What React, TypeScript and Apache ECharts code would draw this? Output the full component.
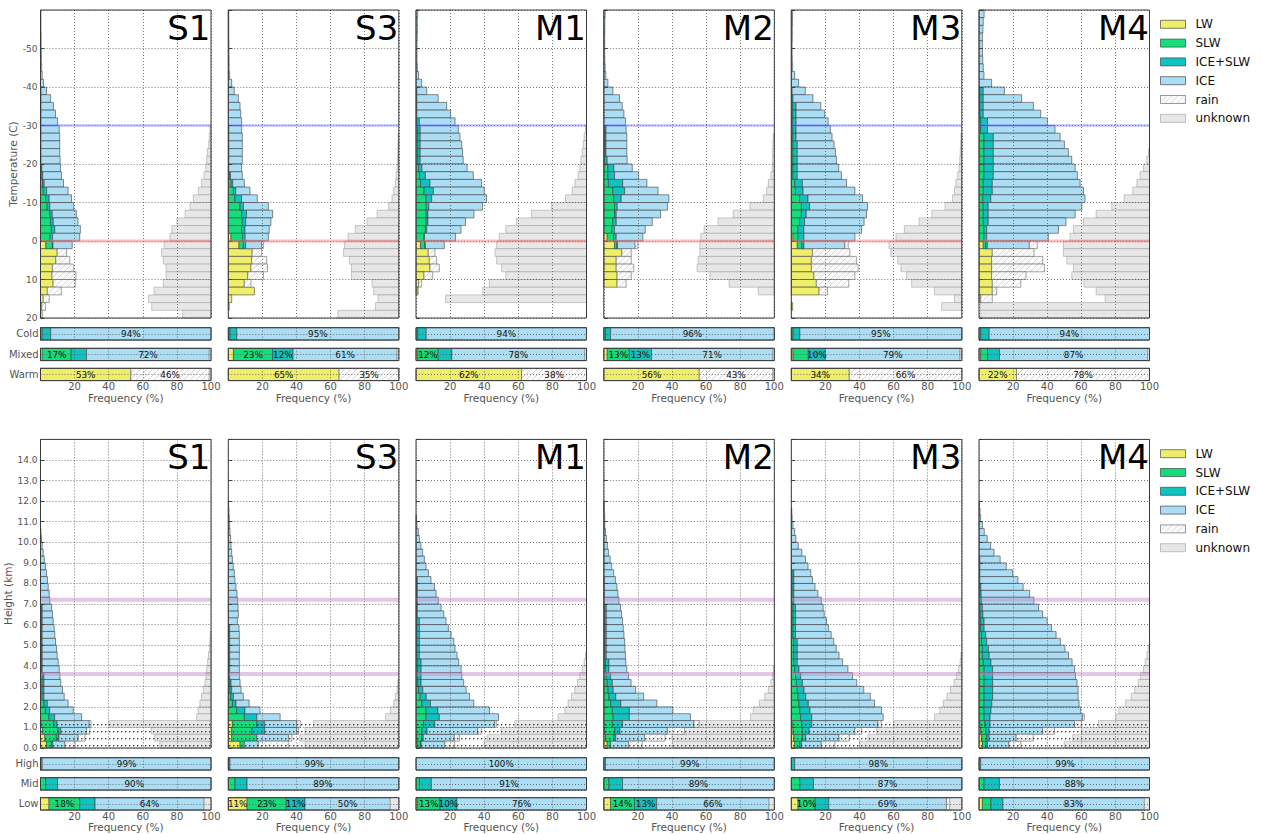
import React, { useEffect, useRef } from "react";
import * as echarts from "echarts";

// ---------- data ----------
const NT = 40; // 2 °C bins from -60 to 20 °C (index 0 = -60..-58)
const NH = 45; // 1/3 km bins from 0 to 15 km (index 0 = 0..0.33 km)
const at = (n: number, start: number, vals: number[]) => {
  const a = new Array(n).fill(0);
  vals.forEach((v, k) => { a[start + k] = v; });
  return a;
};

const PANELS = ["S1", "S3", "M1", "M2", "M3", "M4"];
const CATEGORIES = ["LW", "SLW", "ICE+SLW", "ICE", "rain", "unknown"];
const TOP_ROWS = ["Cold", "Mixed", "Warm"];
const BOTTOM_ROWS = ["High", "Mid", "Low"];
const T_REF_LINES = [-30, 0];
const H_REF_LINES = [7.2, 3.6];
const H_DOTTED_TOP = 1.4;

// Temperature histograms (% per bin)
const T_S1_LW = at(NT, 30, [3.1, 9.8, 9, 7, 6.8, 7.4, 4, 1.6, 0.8, 0.3]);
const T_S1_SLW = at(NT, 20, [0.3, 0.5, 1.2, 1.6, 3.1, 3.9, 5.5, 5.9, 6.4, 5.5, 3.9]);
const T_S1_MIX = at(NT, 10, [0.3, 0.3, 0.3, 0.3, 0.3, 0.3, 0.3, 0.3, 0.3, 0.3, 0.5, 0.8, 1.0, 2.0, 2.0, 1.6, 1.4, 1.6, 2.0, 1.6, 0.3]);
const T_S1_ICE = at(NT, 0, [0.3, 0.3, 0.3, 0.4, 0.4, 0.5, 0.5, 0.7, 1.0, 1.8, 3.2, 5.6, 7.3, 8.5, 9.7, 10.7, 11.0, 11.0, 11.0, 11.2, 10.9, 11.0, 11.3, 12.6, 13.1, 14.0, 14.1, 14.5, 15.0, 15.9, 11.3]);
const T_S1_RAIN = at(NT, 31, [5.5, 8.2, 12.5, 14, 13, 8.2, 3.5, 2.1, 0.8]);
const T_S1_UNK = at(NT, 15, [0.6, 1, 1.4, 2.2, 2.6, 3, 4.1, 5.5, 7.4, 10.4, 12.3, 15.2, 20, 23, 24, 27.5, 29, 28, 26.4, 26.4, 28, 33.4, 36.7, 34.8, 16.6]);

const T_S3_LW = at(NT, 29, [1.6, 6.3, 14, 13.7, 13.3, 11.4, 9.4, 15.3, 2, 0.5]);
const T_S3_SLW = at(NT, 21, [0.8, 1.6, 3, 3.9, 6.9, 7.8, 8.2, 7.8, 6.7, 2.5]);
const T_S3_MIX = at(NT, 15, [0.3, 0.3, 0.3, 0.3, 0.3, 0.3, 0.5, 1, 1.4, 3.9, 2, 2.9, 2, 2, 1.6, 1.4]);
const T_S3_ICE = at(NT, 0, [0.3, 0.3, 0.3, 0.3, 0.4, 0.4, 0.5, 0.5, 0.8, 2, 3.5, 5.9, 6.9, 7.3, 7.8, 7.5, 7.9, 7.9, 7.9, 7.9, 7.5, 6.9, 6.8, 8.3, 9.2, 14.6, 15.3, 14.8, 14.2, 13.6, 9.4]);
const T_S3_RAIN = at(NT, 30, [1, 5.6, 8.8, 9.7, 9.2, 3.9]);
const T_S3_UNK = at(NT, 16, [0.4, 0.5, 0.6, 0.8, 1, 1.6, 2, 3, 4, 5.9, 12.7, 18.6, 25.5, 29.8, 31.8, 32.4, 29, 27.8, 27.8, 15.7, 14.7, 12.2, 13.7, 35.7]);

const T_M1_LW = at(NT, 30, [2.7, 7.2, 7.8, 8.2, 4.7, 1.6, 0.8]);
const T_M1_SLW = at(NT, 14, [0.5, 1, 1, 1, 1, 1, 1.5, 2, 2.7, 4.7, 5.9, 6, 6, 6, 5.5, 4.5, 2.5]);
const T_M1_MIX = at(NT, 10, [0.5, 0.5, 0.5, 0.5, 1.5, 1.5, 1.5, 1.5, 1.5, 1.5, 2, 3.5, 5.5, 5.5, 3.3, 1.5, 1, 1, 0.8, 0.5, 0.3]);
const T_M1_ICE = at(NT, 0, [1.0, 0.8, 0.8, 0.7, 0.6, 0.6, 0.6, 0.8, 1.5, 3.3, 5.8, 12.5, 17.5, 19.8, 20.9, 22.3, 23.3, 24.3, 24.8, 25.2, 26.5, 28.1, 30.3, 29.8, 32.2, 31.5, 27, 22, 20.1, 18.2, 11.1]);
const T_M1_RAIN = at(NT, 31, [3.9, 4.3, 5.5, 5.1, 1.7, 0.5]);
const T_M1_UNK = at(NT, 15, [0.6, 1.4, 2, 2.5, 3.3, 3.9, 4.9, 6.8, 8.4, 12.3, 20.5, 32.2, 41, 47.3, 51.2, 52.7, 53.7, 52.7, 49.8, 47.3, 57, 60.9, 82.6]);

const T_M2_LW = at(NT, 29, [2, 6.3, 10.6, 7.3, 7.3, 7.8, 7.8]);
const T_M2_SLW = at(NT, 15, [0.5, 0.5, 0.5, 0.5, 0.5, 2.4, 2.4, 2.7, 5.3, 5.9, 6.3, 6.3, 5.3, 4.7, 3.9, 1.4]);
const T_M2_MIX = at(NT, 15, [0.8, 0.8, 0.8, 0.8, 1.5, 3.5, 3.9, 8.4, 6.9, 4.3, 1.6, 1, 2, 1.6, 1.4, 0.3]);
const T_M2_ICE = at(NT, 0, [0.8, 0.6, 0.6, 0.5, 0.5, 0.5, 0.6, 0.8, 1.2, 2.4, 5.3, 9.2, 10.8, 11.8, 12.7, 11.8, 12.2, 12.2, 12.2, 11.7, 10.8, 14.1, 14.2, 19.6, 28, 29.4, 26, 21.1, 18, 15.6, 10.4]);
const T_M2_RAIN = at(NT, 30, [1.6, 5.5, 8.8, 10.3, 8.3, 5.3]);
const T_M2_UNK = at(NT, 16, [0.6, 0.8, 1, 1, 1.2, 2, 3.5, 4.5, 6.5, 14.3, 24.1, 33, 41.2, 43.1, 43.7, 43.7, 44.7, 45.3, 37.8, 26.5, 9.4]);

const T_M3_LW = at(NT, 29, [1, 3.5, 12.4, 11.8, 11.8, 13.3, 14.7, 16.3, 0, 0.8]);
const T_M3_SLW = at(NT, 12, [0.8, 0.8, 0.8, 0.8, 0.8, 1, 1, 1, 1, 1, 2, 2.4, 4.9, 5.9, 5.9, 4.9, 3.9, 2.9, 2.7]);
const T_M3_MIX = at(NT, 10, [0.5, 1, 2, 2, 2, 2, 2, 2.5, 2.5, 2.5, 2.5, 2.5, 4.5, 4.5, 4.9, 4.9, 2.9, 2.9, 3.5, 3.5, 1.2]);
const T_M3_ICE = at(NT, 0, [0.8, 0.7, 0.6, 0.6, 0.5, 0.5, 0.6, 0.8, 2, 4.3, 7.7, 11.7, 14.5, 16.8, 18.8, 20.1, 21.1, 21.6, 22.4, 23, 24.3, 25.9, 25.9, 30.4, 32, 33.9, 35.3, 34.9, 33.8, 29.9, 24]);
const T_M3_RAIN = at(NT, 30, [2, 21.9, 26.4, 27.4, 24, 19, 4.9]);
const T_M3_UNK = at(NT, 16, [0.5, 0.7, 0.9, 1.2, 1.6, 2.4, 3.5, 4.3, 5.5, 9.8, 17.6, 25.1, 33.7, 38.6, 42.7, 41.6, 37.6, 35.7, 32.4, 29.4, 16.1, 4.3, 11.8]);

const T_M4_LW = at(NT, 30, [2.5, 7.8, 7.4, 7.4, 7.4, 7.8, 7.8, 1]);
const T_M4_SLW = at(NT, 10, [0.5, 0.5, 0.5, 0.5, 1, 1, 2.9, 2.9, 2.9, 2.9, 2.9, 2.9, 2.5, 2.5, 2.2, 2.5, 2.5, 2.5, 2.9, 2.9, 1.4]);
const T_M4_MIX = at(NT, 10, [2, 2, 2, 2, 4, 4, 5.5, 5.5, 5.5, 5.5, 5.5, 5.5, 5.3, 5.3, 4.7, 2.9, 2.9, 2.9, 1.6, 1.6, 1]);
const T_M4_ICE = at(NT, 0, [3, 2.5, 2.3, 2, 2, 2, 2.2, 2.5, 2.9, 7.4, 12.4, 22.5, 29.4, 33.7, 35.1, 39.6, 39.2, 41.7, 44, 46, 48, 49.3, 51.5, 53.5, 55.3, 54.9, 51, 45.6, 42.1, 36.2, 24.6]);
const T_M4_RAIN = at(NT, 30, [4.7, 24.5, 30, 31, 20.2, 16.7, 2.6, 6.8]);
const T_M4_UNK = at(NT, 18, [0.6, 1.6, 3.5, 5.5, 7.4, 9.8, 14.9, 22.1, 31.3, 38.7, 44.6, 46.6, 50.5, 50.5, 48.5, 44.6, 45.6, 38.4, 31.3, 26, 99, 99]);

// Height histograms (% per bin)
const H_S1_LW = at(NH, 0, [3.5, 2.5, 1.2, 0.3]);
const H_S1_SLW = at(NH, 0, [2.9, 6.8, 9.2, 7.4, 5, 2.9, 2, 1, 1, 1, 1, 0.5, 0.5, 0.5, 0.5, 0.5, 0.5, 0.5, 0.5, 0.5, 0.5]);
const H_S1_MIX = at(NH, 0, [0.8, 1.5, 1.5, 2, 3.3, 2.5, 2, 1, 1, 1, 1, 0.5, 0.5, 0.5, 0.5, 0.5, 0.5, 0.5, 0.5, 0.5, 0.5]);
const H_S1_ICE = at(NH, 0, [7.1, 11.3, 15.1, 18.9, 15.8, 13.8, 12.2, 11.9, 10.9, 9.9, 9.4, 10, 9.4, 8.8, 8.4, 7.8, 7.4, 7, 6.4, 6, 5.5, 5.5, 5.1, 4.5, 4.1, 3.5, 2.9, 2.2, 1.6, 1, 0.6, 0.3]);
const H_S1_RAIN = at(NH, 0, [6, 4, 2, 1]);
const H_S1_UNK = at(NH, 0, [30, 33, 35, 60, 8.4, 7.5, 6.5, 5.5, 4.5, 3.5, 3, 2.5, 2, 1.5, 1, 0.6, 0.4]);

const H_S3_LW = at(NH, 0, [6.9, 2, 2, 2.4]);
const H_S3_SLW = at(NH, 0, [2.5, 14.7, 11.8, 14.3, 9.4, 4.9, 2.5, 1.5, 1, 0.8, 0.3, 0.3, 0.3, 0.3, 0.3, 0.3, 0.3, 0.3]);
const H_S3_MIX = at(NH, 0, [0, 0, 7.5, 4.5, 7.3, 4.9, 2, 1.5, 1, 0.8, 0.5, 0.5, 0.5, 0.5, 0.5, 0.5, 0.5, 0.5]);
const H_S3_ICE = at(NH, 0, [8.2, 18.6, 18.9, 19, 13.7, 8.8, 7.7, 5.8, 5.5, 5.3, 5.7, 5.7, 5.7, 5.7, 5.7, 5.7, 5.7, 5.5, 5.3, 5.9, 5.7, 5.5, 5.1, 4.5, 3.9, 3.5, 2.9, 2.4, 2, 1.6, 1.4, 1, 0.8, 0.6, 0.4, 0.2]);
const H_S3_RAIN = at(NH, 0, [17.6, 2, 1, 2]);
const H_S3_UNK = at(NH, 0, [55, 58, 55, 50, 7.8, 4.9, 2.9, 2, 1, 0.6]);

const H_M1_LW = at(NH, 0, [0.6, 0.3]);
const H_M1_SLW = at(NH, 0, [2, 3, 3.5, 4.5, 5.9, 5.9, 3.5, 2.5, 1.5, 1, 1, 1, 1, 0.5, 0.5, 0.5, 0.5, 0.5, 0.5, 0.3, 0.3, 0.3, 0.3, 0.3, 0.3]);
const H_M1_MIX = at(NH, 0, [0.5, 1, 3, 6.5, 7.8, 7, 5, 3.5, 2.5, 2, 2, 2, 2, 1.5, 1.5, 1.5, 1.5, 1.5, 1.5, 0.5, 0.5, 0.5, 0.5, 0.5, 0.5]);
const H_M1_ICE = at(NH, 0, [13.6, 18.2, 29.8, 35.1, 34.7, 30.2, 25.4, 25.4, 25.4, 25, 23.9, 23.5, 22.1, 22.1, 20.9, 20.2, 18.6, 17, 15.6, 15.5, 13.9, 12.3, 11, 10, 8, 7.3, 5.9, 4.9, 3.9, 2.9, 2, 1.4, 0.6, 0.3]);
const H_M1_RAIN = at(NH, 0, [6, 3, 2, 1]);
const H_M1_UNK = at(NH, 0, [60, 58, 50, 42, 16.7, 12.7, 10.8, 8.8, 6.9, 5.3, 3.9, 2.5, 1.4, 0.6]);

const H_M2_LW = at(NH, 0, [2, 1, 0.5]);
const H_M2_SLW = at(NH, 0, [2, 5, 6, 5, 5.5, 5, 4, 3, 2.5, 2, 1.5, 1, 1, 0.5, 0.5, 0.5, 0.5, 0.5, 0.5, 0.5, 0.5]);
const H_M2_MIX = at(NH, 0, [0, 1, 3, 6, 9.5, 10, 6, 4, 3, 3, 2.5, 2, 2, 1, 1, 1, 1, 1, 1, 1, 1, 0.3, 0.3, 0.3, 0.3]);
const H_M2_ICE = at(NH, 0, [10.5, 16.9, 27.8, 41.9, 35.8, 25.5, 21.1, 16.4, 13.2, 11, 10.5, 10.5, 9.9, 11.2, 10.9, 10.7, 10.3, 9.9, 9.5, 8.9, 8.3, 8.6, 8, 7.4, 6.5, 5.8, 4.6, 3.7, 2.7, 2.1, 1.5, 1, 0.6, 0.5, 0.3, 0.2]);
const H_M2_RAIN = at(NH, 0, [8, 12, 10, 3]);
const H_M2_UNK = at(NH, 0, [60, 60, 55, 45, 14, 12.4, 8.7, 5.6, 3.5, 2, 1, 0.5]);

const H_M3_LW = at(NH, 0, [2, 1.5, 1, 0.5]);
const H_M3_SLW = at(NH, 0, [3, 5, 5.5, 5.5, 5.5, 5, 4.5, 4, 3.5, 3, 2.5, 2, 1.5, 1.5, 1.5, 1.5, 1, 1, 1, 1, 1, 0.5, 0.5, 0.5, 0.5, 0.5]);
const H_M3_MIX = at(NH, 0, [1, 2, 4, 6, 6.5, 6, 5.5, 4.5, 4, 3.5, 3, 2.5, 2, 2, 2, 2, 1.5, 1.5, 1.5, 1.5, 1.5, 1, 1, 1, 1, 1]);
const H_M3_ICE = at(NH, 0, [11.6, 19.5, 26.8, 38.8, 41.9, 41.9, 38.8, 37.8, 35, 31.9, 30.4, 28.7, 26.6, 24.5, 22.8, 21.4, 20.9, 19.3, 18.2, 16.8, 16.2, 16.1, 14.1, 12.4, 10.9, 9.9, 9.8, 8.3, 6.2, 4.1, 2.7, 2, 1, 0.5, 0.3]);
const H_M3_RAIN = at(NH, 0, [8, 6, 4, 2]);
const H_M3_UNK = at(NH, 0, [60, 55, 50, 40, 16, 12.9, 10.8, 8.7, 6.6, 4.6, 3.1, 1.9, 1, 0.5]);

const H_M4_LW = at(NH, 0, [2, 1.5, 1, 0.5]);
const H_M4_SLW = at(NH, 0, [2, 3, 3, 3, 3, 3, 3, 3, 3, 3, 3, 3, 2.5, 2, 2, 1.5, 1.5, 1, 1, 0.8, 0.5, 0.5, 0.3, 0.3]);
const H_M4_MIX = at(NH, 0, [1, 1.5, 2, 3, 3.5, 4, 4.5, 5, 5, 5, 5, 5, 4.5, 4, 3.5, 3, 2.5, 2, 2, 1.5, 1.5, 1, 1, 0.8, 0.5, 0.5, 0.5, 0.5]);
const H_M4_ICE = at(NH, 0, [12.6, 15.8, 31.3, 49.5, 54.3, 52.5, 51.2, 50.1, 50.1, 49.5, 48.6, 48, 47.6, 46.5, 44.9, 43.2, 41.2, 39.5, 37, 35, 32.9, 30.7, 28.4, 24.8, 22.3, 19.2, 15.5, 11.9, 8.8, 6.8, 4.8, 3.1, 2, 1, 0.6, 0.3]);
const H_M4_RAIN = at(NH, 0, [7, 10, 7, 4, 1]);
const H_M4_UNK = at(NH, 0, [50, 45, 40, 30, 19.5, 18, 14, 10.8, 8.7, 6.6, 5.2, 3.5, 2.5, 1.5, 0.8]);

// Summary rows: [LW, SLW, ICE+SLW, ICE, rain, unknown] per panel
const SUM_COLD = [[0, 1, 5, 94, 0, 0], [0, 1, 4, 95, 0, 0], [0, 1, 5, 94, 0, 0], [0, 1, 3, 96, 0, 0], [0, 1, 4, 95, 0, 0], [0, 1, 5, 94, 0, 0]];
const SUM_MIXED = [[1, 17, 9, 72, 0, 1], [3, 23, 12, 61, 0, 1], [1, 12, 8, 78, 0, 1], [2, 13, 13, 71, 0, 1], [1, 9, 10, 79, 0, 1], [1, 4, 7, 87, 0, 1]];
const SUM_WARM = [[53, 0, 0, 0, 46, 1], [65, 0, 0, 0, 35, 0], [62, 0, 0, 0, 38, 0], [56, 0, 0, 0, 43, 1], [34, 0, 0, 0, 66, 0], [22, 0, 0, 0, 78, 0]];
const SUM_HIGH = [[0, 0, 1, 99, 0, 0], [0, 0, 1, 99, 0, 0], [0, 0, 0, 100, 0, 0], [0, 0, 1, 99, 0, 0], [0, 0, 2, 98, 0, 0], [0, 0, 1, 99, 0, 0]];
const SUM_MID = [[0, 3, 7, 90, 0, 0], [0, 4, 7, 89, 0, 0], [0, 2, 7, 91, 0, 0], [0, 3, 8, 89, 0, 0], [0, 5, 8, 87, 0, 0], [0, 3, 9, 88, 0, 0]];
const SUM_LOW = [[5, 18, 9, 64, 0, 4], [11, 23, 11, 50, 0, 5], [1, 13, 10, 76, 0, 0], [4, 14, 13, 66, 0, 3], [4, 10, 8, 69, 2, 7], [2, 5, 7, 83, 0, 3]];

const T_DATA = [
  [T_S1_LW, T_S1_SLW, T_S1_MIX, T_S1_ICE, T_S1_RAIN, T_S1_UNK],
  [T_S3_LW, T_S3_SLW, T_S3_MIX, T_S3_ICE, T_S3_RAIN, T_S3_UNK],
  [T_M1_LW, T_M1_SLW, T_M1_MIX, T_M1_ICE, T_M1_RAIN, T_M1_UNK],
  [T_M2_LW, T_M2_SLW, T_M2_MIX, T_M2_ICE, T_M2_RAIN, T_M2_UNK],
  [T_M3_LW, T_M3_SLW, T_M3_MIX, T_M3_ICE, T_M3_RAIN, T_M3_UNK],
  [T_M4_LW, T_M4_SLW, T_M4_MIX, T_M4_ICE, T_M4_RAIN, T_M4_UNK],
];
const H_DATA = [
  [H_S1_LW, H_S1_SLW, H_S1_MIX, H_S1_ICE, H_S1_RAIN, H_S1_UNK],
  [H_S3_LW, H_S3_SLW, H_S3_MIX, H_S3_ICE, H_S3_RAIN, H_S3_UNK],
  [H_M1_LW, H_M1_SLW, H_M1_MIX, H_M1_ICE, H_M1_RAIN, H_M1_UNK],
  [H_M2_LW, H_M2_SLW, H_M2_MIX, H_M2_ICE, H_M2_RAIN, H_M2_UNK],
  [H_M3_LW, H_M3_SLW, H_M3_MIX, H_M3_ICE, H_M3_RAIN, H_M3_UNK],
  [H_M4_LW, H_M4_SLW, H_M4_MIX, H_M4_ICE, H_M4_RAIN, H_M4_UNK],
];

// ---------- layout & style ----------
const PANEL_LEFT = [40.5, 228.3, 416, 603.8, 791.3, 979];
const PANEL_W = 170.5;
const FONT = "DejaVu Sans";
const GRID_LINE = { color: "#555", width: 0.8, type: [1, 2] as any };

function makeHatch() {
  const c = document.createElement("canvas");
  c.width = 6; c.height = 6;
  const ctx = c.getContext("2d")!;
  ctx.fillStyle = "#fbfbfb";
  ctx.fillRect(0, 0, 6, 6);
  ctx.strokeStyle = "#d0d0d0";
  ctx.lineWidth = 0.8;
  ctx.beginPath();
  ctx.moveTo(0, 6); ctx.lineTo(6, 0);
  ctx.moveTo(-3, 3); ctx.lineTo(3, -3);
  ctx.moveTo(3, 9); ctx.lineTo(9, 3);
  ctx.stroke();
  return c;
}
function makeDots() {
  const c = document.createElement("canvas");
  c.width = 4; c.height = 7;
  const ctx = c.getContext("2d")!;
  ctx.fillStyle = "rgba(35,35,35,0.85)";
  ctx.fillRect(1, 3, 1.4, 1.4);
  return c;
}

function buildOption() {
  const hatch = { image: makeHatch(), repeat: "repeat" };
  const dots = { image: makeDots(), repeat: "repeat" };
  const FILLS: any[] = ["#eeee6a", "#14de7b", "#10c3c0", "#abdef5", hatch, "rgba(228,228,228,0.9)"];
  const STROKES = ["rgba(60,60,60,0.65)", "rgba(60,60,60,0.65)", "rgba(60,60,60,0.65)", "rgba(60,60,60,0.65)", "rgba(90,90,90,0.6)", "rgba(150,150,150,0.55)"];

  const grids: any[] = [];
  const xAxes: any[] = [];
  const yAxes: any[] = [];
  const series: any[] = [];
  const titles: any[] = [];

  const addGrid = (left: number, top: number, width: number, height: number) => {
    grids.push({ left, top, width, height, show: true, borderColor: "#3a3a3a", borderWidth: 1, z: 5, backgroundColor: "transparent" });
    return grids.length - 1;
  };

  const rectFrom = (a: number[], b: number[]) => ({
    x: Math.min(a[0], b[0]), y: Math.min(a[1], b[1]),
    width: Math.abs(b[0] - a[0]), height: Math.abs(b[1] - a[1]),
  });

  const barRender = (fill: any, stroke: string) => (_p: any, api: any) => {
    const a = api.coord([api.value(2), api.value(0)]);
    const b = api.coord([api.value(3), api.value(1)]);
    return { type: "rect", shape: rectFrom(a, b), style: { fill, stroke, lineWidth: 0.9 } };
  };

  const sumRender = (_p: any, api: any) => {
    const x0 = api.value(0), x1 = api.value(1), c = api.value(2), v = api.value(3);
    const a = api.coord([x0, 0]);
    const b = api.coord([x1, 2]);
    const rect = { type: "rect", shape: rectFrom(a, b), style: { fill: FILLS[c], stroke: STROKES[c], lineWidth: 0.9 } };
    if (v < 10) return rect;
    return {
      type: "group",
      children: [
        rect,
        {
          type: "text", x: (a[0] + b[0]) / 2, y: (a[1] + b[1]) / 2 + 0.5, z2: 10,
          style: { text: v + "%", align: "center", verticalAlign: "middle", fontSize: 8.8, fontFamily: FONT, fill: "#111" },
        },
      ],
    };
  };

  const buildRow = (
    kind: "T" | "H", data: number[][][], mainTop: number, mainH: number,
    rowTops: number[], rowNames: string[], sums: number[][][],
  ) => {
    for (let p = 0; p < 6; p++) {
      const left = PANEL_LEFT[p];
      // ---- main histogram panel ----
      const g = addGrid(left, mainTop, PANEL_W, mainH);
      xAxes.push({
        gridIndex: g, type: "value", min: 0, max: 100, interval: 20, z: 3,
        axisLine: { show: false }, axisTick: { show: false }, axisLabel: { show: false },
        splitLine: { show: true, lineStyle: GRID_LINE },
      });
      const isT = kind === "T";
      yAxes.push({
        gridIndex: g, type: "value", z: 3,
        min: isT ? -60 : 0, max: isT ? 20 : 15, interval: isT ? 10 : 1, inverse: isT,
        axisLine: { show: false },
        axisTick: { show: true, inside: true, length: 4, lineStyle: { color: "#444" } },
        axisLabel: {
          show: p === 0, fontSize: 9, color: "#555", fontFamily: FONT, margin: 3,
          showMinLabel: isT ? false : true, showMaxLabel: isT ? true : false,
          formatter: (v: number) => (isT ? String(v) : v.toFixed(1)),
        },
        splitLine: { show: true, lineStyle: GRID_LINE },
        name: p === 0 ? (isT ? "Temperature (C)" : "Height (km)") : "",
        nameLocation: "middle", nameGap: isT ? 15 : 20, nameRotate: 90,
        nameTextStyle: { fontSize: 10.5, color: "#555", fontFamily: FONT },
      });
      const arrs = data[p];
      const n = arrs[0].length;
      const lo = (i: number) => (isT ? -60 + 2 * i : i / 3);
      const hi = (i: number) => (isT ? -58 + 2 * i : (i + 1) / 3);
      const items: number[][][] = CATEGORIES.map(() => []);
      for (let i = 0; i < n; i++) {
        let cum = 0;
        for (let c = 0; c < 5; c++) {
          const v = arrs[c][i];
          if (v > 0) items[c].push([lo(i), hi(i), cum, cum + v]);
          cum += v;
        }
        const u = arrs[5][i];
        if (u > 0) items[5].push([lo(i), hi(i), 100 - u, 100]);
      }
      for (const c of [5, 0, 1, 2, 3, 4]) {
        series.push({
          type: "custom", name: CATEGORIES[c], xAxisIndex: g, yAxisIndex: g, z: 2, silent: true,
          itemStyle: { color: FILLS[c], borderColor: STROKES[c], borderWidth: 1 },
          data: items[c], renderItem: barRender(FILLS[c], STROKES[c]),
        });
      }
      // reference lines / dotted region
      if (isT) {
        const cols = ["rgba(110,110,255,0.35)", "rgba(255,110,110,0.45)"];
        series.push({
          type: "custom", name: "ref", xAxisIndex: g, yAxisIndex: g, z: 4, silent: true,
          data: T_REF_LINES.map((v) => [v]),
          renderItem: (params: any, api: any) => {
            const y = api.value(0);
            const a = api.coord([0, y]), b = api.coord([100, y]);
            return { type: "line", shape: { x1: a[0], y1: a[1], x2: b[0], y2: b[1] }, style: { stroke: cols[params.dataIndex], lineWidth: 3 } };
          },
        });
      } else {
        series.push({
          type: "custom", name: "ref", xAxisIndex: g, yAxisIndex: g, z: 4, silent: true,
          data: H_REF_LINES.map((v) => [v]),
          renderItem: (_params: any, api: any) => {
            const y = api.value(0);
            const a = api.coord([0, y]), b = api.coord([100, y]);
            return { type: "line", shape: { x1: a[0], y1: a[1], x2: b[0], y2: b[1] }, style: { stroke: "rgba(195,130,195,0.45)", lineWidth: 4 } };
          },
        });
        series.push({
          type: "custom", name: "dots", xAxisIndex: g, yAxisIndex: g, z: 4, silent: true,
          data: [[0, H_DOTTED_TOP]],
          renderItem: (_params: any, api: any) => {
            const a = api.coord([0, api.value(0)]), b = api.coord([100, api.value(1)]);
            return { type: "rect", shape: rectFrom(a, b), style: { fill: dots, stroke: null } };
          },
        });
      }
      titles.push({
        text: PANELS[p], right: 1262 - (left + PANEL_W) + 0.5, top: mainTop + 1, padding: 0,
        textStyle: { fontSize: 34, fontWeight: "normal", color: "#000", fontFamily: FONT },
      });

      // ---- summary rows ----
      for (let r = 0; r < 3; r++) {
        const gr = addGrid(left, rowTops[r], PANEL_W, 12.3);
        const last = r === 2;
        xAxes.push({
          gridIndex: gr, type: "value", min: 0, max: 100, interval: 20, z: 3,
          axisLine: { show: false }, axisTick: { show: false },
          axisLabel: { show: last, showMinLabel: false, fontSize: 10, color: "#555", fontFamily: FONT, margin: 1 },
          splitLine: { show: true, lineStyle: GRID_LINE },
          name: last ? "Frequency (%)" : "", nameLocation: "middle", nameGap: 11,
          nameTextStyle: { fontSize: 10.5, color: "#555", fontFamily: FONT },
        });
        const rowName = rowNames[r];
        yAxes.push({
          gridIndex: gr, type: "value", min: 0, max: 2, interval: 1, z: 3,
          axisLine: { show: false }, axisTick: { show: false },
          axisLabel: {
            show: p === 0, fontSize: 10, color: "#555", fontFamily: FONT, margin: 2,
            formatter: (v: number) => (v === 1 ? rowName : ""),
          },
          splitLine: { show: true, lineStyle: GRID_LINE },
        });
        const vals = sums[r][p];
        const segs: number[][] = [];
        let cum = 0;
        vals.forEach((v, c) => {
          if (v > 0) segs.push([cum, cum + v, c, v]);
          cum += v;
        });
        series.push({
          type: "custom", name: "summary", xAxisIndex: gr, yAxisIndex: gr, z: 2, silent: true,
          data: segs, renderItem: sumRender,
        });
      }
    }
  };

  buildRow("T", T_DATA, 10, 308, [327.7, 348.3, 368.3], TOP_ROWS, [SUM_COLD, SUM_MIXED, SUM_WARM]);
  buildRow("H", H_DATA, 439.4, 308.6, [757.7, 777.7, 797.7], BOTTOM_ROWS, [SUM_HIGH, SUM_MID, SUM_LOW]);

  const legendBase = {
    data: CATEGORIES, orient: "vertical", left: 1160, itemWidth: 25, itemHeight: 8, itemGap: 4.8,
    icon: "rect", padding: 0, selectedMode: false,
    itemStyle: { borderWidth: 1 },
    textStyle: { fontSize: 12, color: "#111", fontFamily: FONT, lineHeight: 14, padding: [0, 0, 0, 5] },
  };

  return {
    animation: false,
    backgroundColor: "#fff",
    textStyle: { fontFamily: FONT },
    title: titles,
    legend: [{ ...legendBase, top: 17.3 }, { ...legendBase, top: 446.7 }],
    grid: grids,
    xAxis: xAxes,
    yAxis: yAxes,
    series,
  };
}

export default function App() {
  const ref = useRef<HTMLDivElement>(null);
  useEffect(() => {
    if (!ref.current) return;
    const chart = echarts.init(ref.current, undefined, { renderer: "svg" });
    chart.setOption(buildOption() as any);
    return () => chart.dispose();
  }, []);
  return (
    <div
      ref={ref}
      style={{ position: "fixed", left: 0, top: 0, width: 1262, height: 834, background: "#fff" }}
    />
  );
}
